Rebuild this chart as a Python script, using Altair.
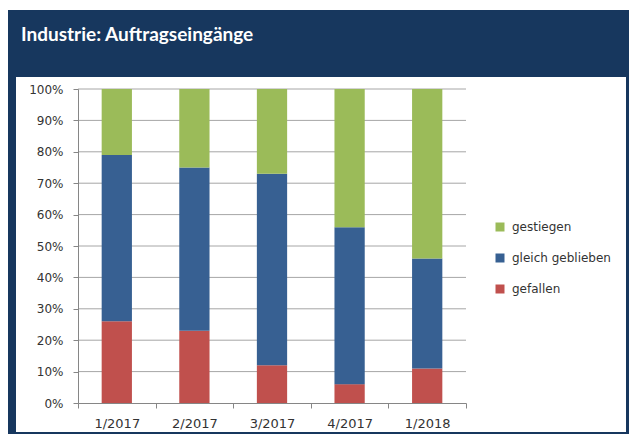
import altair as alt
import pandas as pd

quarters = ["1/2017", "2/2017", "3/2017", "4/2017", "1/2018"]
gefallen = [26, 23, 12, 6, 11]
gleich = [53, 52, 61, 50, 35]
gestiegen = [21, 25, 27, 44, 54]
series = ["gestiegen", "gleich geblieben", "gefallen"]
colors = ["#9BBB59", "#376092", "#C0504D"]
grid_ticks = [10, 20, 30, 40, 50, 60, 70, 80, 90, 100]
title_text = "Industrie: Auftragseingänge"

NAVY = "#17375E"
TXT = "#333333"
GRID = "#a6a6a6"

rows = []
for i, q in enumerate(quarters):
    for name, vals, o in [("gefallen", gefallen, 0), ("gleich geblieben", gleich, 1), ("gestiegen", gestiegen, 2)]:
        rows.append({"Quartal": q, "Reihe": name, "Wert": vals[i], "o": o})
df = pd.DataFrame(rows)
one = pd.DataFrame({"k": [0]})

yscale = alt.Scale(domain=[0, 100], nice=False)
yaxis = alt.Axis(title=None, values=list(range(0, 101, 10)), labelExpr="datum.value + '%'",
                 grid=False, tickSize=5, tickColor="#868686", domainColor="#868686",
                 labelFont="DejaVu Sans", labelFontSize=12, labelColor=TXT, labelPadding=10, zindex=1)

frame = alt.Chart(one).mark_rect(color=NAVY).encode(
    x=alt.value(-71), x2=alt.value(551), y=alt.value(-79), y2=alt.value(345))
inner = alt.Chart(one).mark_rect(color="white").encode(
    x=alt.value(-62), x2=alt.value(548), y=alt.value(-12), y2=alt.value(343))
title = alt.Chart(one).mark_text(text=title_text, font="Lato", fontSize=19, fontWeight="bold",
                                 color="white", align="left", baseline="alphabetic").encode(
    x=alt.value(-57), y=alt.value(-48))

grid = alt.Chart(pd.DataFrame({"v": grid_ticks})).mark_rule(color=GRID, strokeWidth=1).encode(
    y=alt.Y("v:Q", scale=yscale, axis=yaxis))

bars = alt.Chart(df).mark_bar(width=alt.RelativeBandSize(0.39)).encode(
    x=alt.X("Quartal:N", sort=quarters, scale=alt.Scale(paddingInner=0, paddingOuter=0),
            axis=alt.Axis(title=None, labelAngle=0, tickBand="extent", tickSize=5,
                          tickColor="#868686", domainColor="#868686", labelFont="DejaVu Sans",
                          labelFontSize=13, labelColor=TXT, labelPadding=9, zindex=1)),
    y=alt.Y("Wert:Q", stack="zero", scale=yscale, axis=yaxis),
    color=alt.Color("Reihe:N", scale=alt.Scale(domain=series, range=colors),
                    legend=alt.Legend(title=None, orient="none", legendX=416, legendY=132,
                                      symbolType="square", symbolSize=81, symbolStrokeWidth=0,
                                      labelFont="DejaVu Sans", labelFontSize=12, labelColor=TXT,
                                      rowPadding=19, labelOffset=6)),
    order=alt.Order("o:Q"))

chart = alt.layer(frame, inner, title, grid, bars).properties(
    width=388, height=314, autosize="none",
    padding={"left": 70, "top": 81, "right": 163, "bottom": 31},
    background="white",
).configure_view(stroke=None)

chart.save("out.html", embed_options={"renderer": "svg", "actions": False})
